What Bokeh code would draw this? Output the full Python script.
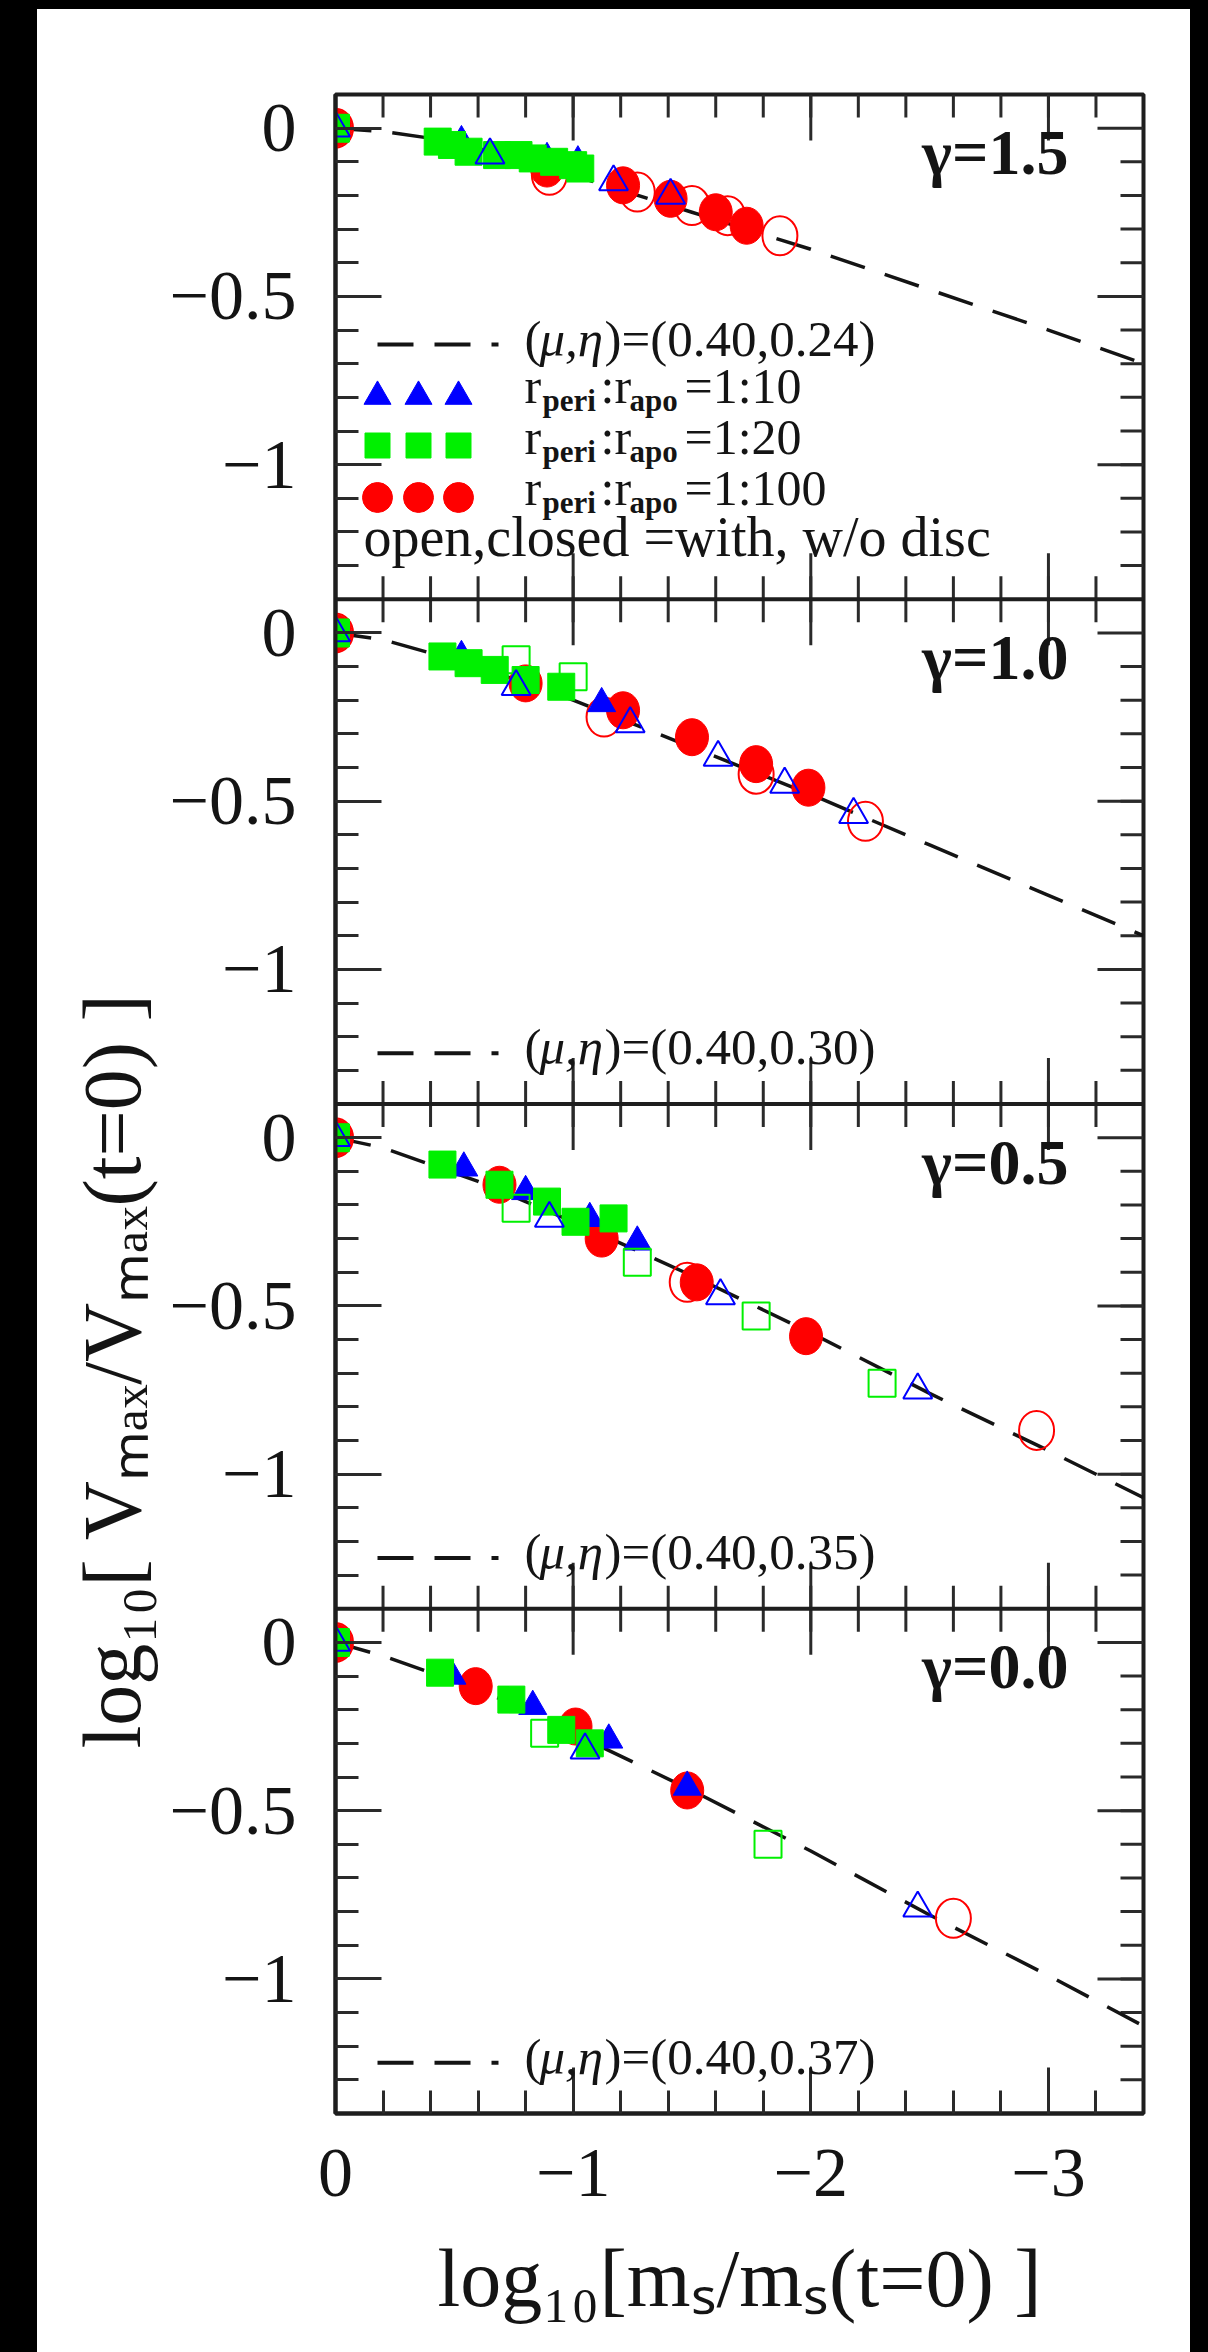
from bokeh.plotting import figure
from bokeh.models import Range1d, LinearAxis, FixedTicker, Label, Span, Title
from bokeh.embed import file_html
from bokeh.resources import INLINE

# ---------------------------------------------------------------- data
GAMMA_TEXT = ["γ=1.5", "γ=1.0", "γ=0.5", "γ=0.0"]
FIT_PARAMS = ["(0.40,0.24)", "(0.40,0.30)", "(0.40,0.35)", "(0.40,0.37)"]
ORBIT_RATIO = ["1:10", "1:20", "1:100"]
DISC_NOTE = "open,closed =with, w/o disc"
X_TITLE = "log₁₀[mₛ/mₛ(t=0) ]"
Y_TITLE = "log₁₀[ Vₘₐₓ/Vₘₐₓ(t=0) ]"

X_TICKS = [0, -1, -2, -3]
X_TICK_TEXT = ["0", "−1", "−2", "−3"]
Y_TICKS = [0.0, -0.5, -1.0]
Y_TICK_TEXT = ["0", "−0.5", "−1"]

# dashed tidal tracks
TRACK_X = [0, -0.2, -0.4, -0.6, -0.8, -1.0, -1.5, -2.0, -2.5, -3.0, -3.4]
TRACK_G15 = [0, -0.01, -0.03, -0.06, -0.10, -0.14, -0.25, -0.36, -0.48, -0.60, -0.70]
TRACK_G10 = [0, -0.02, -0.06, -0.10, -0.15, -0.20, -0.34, -0.48, -0.63, -0.78, -0.90]
TRACK_G05 = [0, -0.03, -0.08, -0.13, -0.19, -0.25, -0.41, -0.58, -0.76, -0.93, -1.07]
TRACK_G00 = [0, -0.04, -0.09, -0.14, -0.20, -0.27, -0.44, -0.62, -0.81, -0.99, -1.14]

# gamma = 1.5
G15_TRI_X = [0, -0.53, -0.89, -1.02]
G15_TRI_Y = [0, -0.04, -0.09, -0.10]
G15_TRI_OPEN_X = [0, -0.65, -1.17, -1.41]
G15_TRI_OPEN_Y = [0, -0.08, -0.16, -0.20]
G15_SQ_X = [0, -0.43, -0.49, -0.56, -0.68, -0.77, -0.83, -0.92, -1.00, -1.03]
G15_SQ_Y = [0, -0.04, -0.05, -0.07, -0.08, -0.08, -0.09, -0.10, -0.11, -0.12]
G15_SQ_OPEN_X = [0]
G15_SQ_OPEN_Y = [0]
G15_CIR_X = [0, -0.89, -1.21, -1.41, -1.60, -1.73]
G15_CIR_Y = [0, -0.12, -0.17, -0.21, -0.25, -0.29]
G15_CIR_OPEN_X = [0, -0.90, -1.27, -1.50, -1.65, -1.87]
G15_CIR_OPEN_Y = [0, -0.14, -0.19, -0.23, -0.26, -0.32]

# gamma = 1.0
G10_TRI_X = [0, -0.53, -1.12]
G10_TRI_Y = [0, -0.07, -0.21]
G10_TRI_OPEN_X = [0, -0.76, -1.24, -1.61, -1.89, -2.18]
G10_TRI_OPEN_Y = [0, -0.16, -0.27, -0.37, -0.45, -0.54]
G10_SQ_X = [0, -0.45, -0.56, -0.67, -0.80, -0.95]
G10_SQ_Y = [0, -0.07, -0.09, -0.11, -0.14, -0.16]
G10_SQ_OPEN_X = [0, -0.76, -1.00]
G10_SQ_OPEN_Y = [0, -0.08, -0.13]
G10_CIR_X = [0, -0.80, -1.21, -1.50, -1.77, -1.99]
G10_CIR_Y = [0, -0.15, -0.23, -0.31, -0.39, -0.46]
G10_CIR_OPEN_X = [0, -1.13, -1.77, -2.23]
G10_CIR_OPEN_Y = [0, -0.25, -0.42, -0.56]

# gamma = 0.5
G05_TRI_X = [0, -0.54, -0.80, -1.07, -1.27]
G05_TRI_Y = [0, -0.09, -0.16, -0.24, -0.31]
G05_TRI_OPEN_X = [0, -0.90, -1.62, -2.45]
G05_TRI_OPEN_Y = [0, -0.24, -0.47, -0.75]
G05_SQ_X = [0, -0.45, -0.69, -0.89, -1.01, -1.17]
G05_SQ_Y = [0, -0.08, -0.14, -0.19, -0.25, -0.24]
G05_SQ_OPEN_X = [0, -0.76, -1.27, -1.77, -2.30]
G05_SQ_OPEN_Y = [0, -0.21, -0.37, -0.53, -0.73]
G05_CIR_X = [0, -0.69, -1.12, -1.52, -1.98]
G05_CIR_Y = [0, -0.14, -0.30, -0.43, -0.59]
G05_CIR_OPEN_X = [0, -1.48, -2.95]
G05_CIR_OPEN_Y = [0, -0.43, -0.87]

# gamma = 0.0
G00_TRI_X = [0, -0.49, -0.83, -1.15, -1.48]
G00_TRI_Y = [0, -0.10, -0.19, -0.29, -0.43]
G00_TRI_OPEN_X = [0, -1.05, -2.45]
G00_TRI_OPEN_Y = [0, -0.32, -0.79]
G00_SQ_X = [0, -0.44, -0.74, -0.95, -1.07]
G00_SQ_Y = [0, -0.09, -0.17, -0.26, -0.30]
G00_SQ_OPEN_X = [0, -0.88, -1.82]
G00_SQ_OPEN_Y = [0, -0.27, -0.60]
G00_CIR_X = [0, -0.59, -1.01, -1.48]
G00_CIR_Y = [0, -0.13, -0.25, -0.44]
G00_CIR_OPEN_X = [0, -2.60]
G00_CIR_OPEN_Y = [0, -0.82]

PANELS = [
    dict(track=TRACK_G15, tri=(G15_TRI_X, G15_TRI_Y), tri_o=(G15_TRI_OPEN_X, G15_TRI_OPEN_Y),
         sq=(G15_SQ_X, G15_SQ_Y), sq_o=(G15_SQ_OPEN_X, G15_SQ_OPEN_Y),
         cir=(G15_CIR_X, G15_CIR_Y), cir_o=(G15_CIR_OPEN_X, G15_CIR_OPEN_Y)),
    dict(track=TRACK_G10, tri=(G10_TRI_X, G10_TRI_Y), tri_o=(G10_TRI_OPEN_X, G10_TRI_OPEN_Y),
         sq=(G10_SQ_X, G10_SQ_Y), sq_o=(G10_SQ_OPEN_X, G10_SQ_OPEN_Y),
         cir=(G10_CIR_X, G10_CIR_Y), cir_o=(G10_CIR_OPEN_X, G10_CIR_OPEN_Y)),
    dict(track=TRACK_G05, tri=(G05_TRI_X, G05_TRI_Y), tri_o=(G05_TRI_OPEN_X, G05_TRI_OPEN_Y),
         sq=(G05_SQ_X, G05_SQ_Y), sq_o=(G05_SQ_OPEN_X, G05_SQ_OPEN_Y),
         cir=(G05_CIR_X, G05_CIR_Y), cir_o=(G05_CIR_OPEN_X, G05_CIR_OPEN_Y)),
    dict(track=TRACK_G00, tri=(G00_TRI_X, G00_TRI_Y), tri_o=(G00_TRI_OPEN_X, G00_TRI_OPEN_Y),
         sq=(G00_SQ_X, G00_SQ_Y), sq_o=(G00_SQ_OPEN_X, G00_SQ_OPEN_Y),
         cir=(G00_CIR_X, G00_CIR_Y), cir_o=(G00_CIR_OPEN_X, G00_CIR_OPEN_Y)),
]

# ---------------------------------------------------------------- style / layout
FONT = "Liberation Serif"
TEXT = "#141414"
FRAME = "#1e1e1e"
TICK = "#2a2a2a"
BLUE, GREEN, RED = "#0000ff", "#00f000", "#ff0000"

PAGE_W, PAGE_H = 1208, 2352
BLACK_L, BLACK_T, BLACK_R = 37, 9, 18            # black page edges
FIG_W, FIG_H = PAGE_W - BLACK_R, PAGE_H
FL, FR, FT, FB = 335, 1143, 94, 2113            # frame edges in page pixels
X_START, X_END = 0.0, -3.4
Y_LO, Y_HI = -1.4, 0.1                            # one panel
NP = 4
SPAN = Y_HI - Y_LO
DEF_LO, DEF_HI = Y_LO, Y_LO + NP * SPAN          # default range = bottom panel
PANEL_H = (FB - FT) / NP
YU = (DEF_HI - DEF_LO) / (FB - FT)               # y data units per pixel
XU = (X_END - X_START) / (FR - FL)               # x data units per pixel


def X(px):
    return X_START + (px - FL) * XU


def Y(py):
    return DEF_HI - (py - FT) * YU


def ptop(k):
    return FT + k * PANEL_H


p = figure(width=FIG_W, height=FIG_H,
           x_range=Range1d(X_START, X_END), y_range=Range1d(DEF_LO, DEF_HI),
           x_axis_type=None, y_axis_type=None,
           min_border_left=FL, min_border_right=FIG_W - FR,
           min_border_top=FT, min_border_bottom=FIG_H - FB,
           output_backend="svg", toolbar_location=None)
p.background_fill_color = "white"
p.border_fill_color = "white"
p.outline_line_color = FRAME
p.outline_line_width = 4

for k in range(NP):
    off = (NP - 1 - k) * SPAN
    p.extra_y_ranges[f"p{k}"] = Range1d(DEF_LO - off, DEF_HI - off)

# ---- ticks
y_major, y_minor, y_over = [], [], {}
for k in range(NP):
    off = (NP - 1 - k) * SPAN
    for v, t in zip(Y_TICKS, Y_TICK_TEXT):
        y_major.append(round(v + off, 6))
        y_over[round(v + off, 6)] = t
    for i in range(1, 14):
        y_minor.append(round(-0.1 * i + off, 6))

x_major = [float(v) for v in X_TICKS]
x_minor = [round(-0.2 * i, 6) for i in range(1, 17)]
x_over = {float(v): t for v, t in zip(X_TICKS, X_TICK_TEXT)}


def style_axis(ax, size="70px", standoff=39):
    ax.major_tick_in = 46
    ax.major_tick_out = 0
    ax.minor_tick_in = 23
    ax.minor_tick_out = 0
    ax.major_tick_line_width = 3
    ax.minor_tick_line_width = 3
    ax.major_tick_line_color = TICK
    ax.minor_tick_line_color = TICK
    ax.axis_line_width = 4
    ax.axis_line_color = FRAME
    ax.major_label_text_font = FONT
    ax.major_label_text_font_size = size
    ax.major_label_text_color = TEXT
    ax.major_label_standoff = standoff


yl = LinearAxis(ticker=FixedTicker(ticks=y_major, minor_ticks=y_minor),
                major_label_overrides=y_over)
style_axis(yl, standoff=39)
p.add_layout(yl, "left")

# y title, started where the reference starts it
p.add_layout(Title(text=Y_TITLE, align="left", offset=FB - 1748, vertical_align="bottom",
                   standoff=18, text_font=FONT, text_font_size="82px",
                   text_font_style="normal", text_color=TEXT), "left")

xb = LinearAxis(ticker=FixedTicker(ticks=x_major, minor_ticks=x_minor),
                major_label_overrides=x_over,
                axis_label=X_TITLE, axis_label_text_font=FONT,
                axis_label_text_font_size="82px", axis_label_text_font_style="normal",
                axis_label_text_color=TEXT, axis_label_standoff=34)
style_axis(xb, standoff=36)
p.add_layout(xb, "below")

# ---- ticks on the top and right edges and on the inner panel boundaries
maj_y = 46 * YU
min_y = 23 * YU
maj_x = 46 * XU
min_x = 23 * XU
sx0, sy0, sx1, sy1 = [], [], [], []
for xv in x_major:
    sx0.append(xv); sx1.append(xv); sy0.append(DEF_HI); sy1.append(DEF_HI - maj_y)
for xv in x_minor:
    sx0.append(xv); sx1.append(xv); sy0.append(DEF_HI); sy1.append(DEF_HI - min_y)
for yv in y_major:
    sx0.append(X_END); sx1.append(X_END - maj_x); sy0.append(yv); sy1.append(yv)
for yv in y_minor:
    sx0.append(X_END); sx1.append(X_END - min_x); sy0.append(yv); sy1.append(yv)
for k in range(1, NP):
    b = Y(ptop(k))
    p.add_layout(Span(location=b, dimension="width", line_color=FRAME, line_width=4))
    for xv in x_major:
        sx0.append(xv); sx1.append(xv); sy0.append(b - maj_y); sy1.append(b + maj_y)
    for xv in x_minor:
        sx0.append(xv); sx1.append(xv); sy0.append(b - min_y); sy1.append(b + min_y)
p.segment(x0=sx0, y0=sy0, x1=sx1, y1=sy1, line_color=TICK, line_width=3)

# ---- data
for k, pd in enumerate(PANELS):
    rn = f"p{k}"
    p.line(TRACK_X, pd["track"], y_range_name=rn, line_color=TEXT, line_width=3.5,
           line_dash="36 21")
    p.ellipse(x=pd["cir"][0], y=pd["cir"][1], width=33, height=37, width_units="screen",
              height_units="screen", fill_color=RED, line_color=RED, y_range_name=rn)
    p.ellipse(x=pd["cir_o"][0], y=pd["cir_o"][1], width=35, height=39, width_units="screen",
              height_units="screen", fill_color=None, line_color=RED, line_width=2,
              y_range_name=rn)
    p.scatter(pd["tri"][0], pd["tri"][1], marker="triangle", size=28, fill_color=BLUE,
              line_color=BLUE, y_range_name=rn)
    p.scatter(pd["sq"][0], pd["sq"][1], marker="square", size=27, fill_color=GREEN,
              line_color=GREEN, y_range_name=rn)
    p.scatter(pd["sq_o"][0], pd["sq_o"][1], marker="square", size=27, fill_color=None,
              line_color=GREEN, line_width=2, y_range_name=rn)
    p.scatter(pd["tri_o"][0], pd["tri_o"][1], marker="triangle", size=29, fill_color=None,
              line_color=BLUE, line_width=2, y_range_name=rn)


# ---- text helper (y = visual centre of the text line)
def lab(text, px, py, size, style="normal", align="left"):
    p.add_layout(Label(x=X(px), y=Y(py), text=text, text_font=FONT,
                       text_font_size=f"{size}px", text_font_style=style,
                       text_color=TEXT, text_align=align, text_baseline="middle"))


for k in range(NP):
    top = ptop(k)
    lab(GAMMA_TEXT[k], 1068, top + 58, 64, style="bold", align="right")
    dash_y = top + (250 if k == 0 else 454)
    p.line([X(377), X(498)], [Y(dash_y), Y(dash_y)], line_color=TEXT, line_width=4,
           line_dash="36 21")
    lab("(", 524, dash_y - 6, 51)
    lab("μ,η", 539, dash_y - 6, 51, style="italic")
    lab(")=" + FIT_PARAMS[k], 604, dash_y - 6, 51)

# legend of panel 1
row_mid = [385, 436, 487]
row_mark = [396, 445, 497]
leg_x = [377, 418, 458]
p.scatter([X(v) for v in leg_x], [Y(row_mark[0])] * 3, marker="triangle", size=27,
          fill_color=BLUE, line_color=BLUE)
p.scatter([X(v) for v in leg_x], [Y(row_mark[1])] * 3, marker="square", size=25,
          fill_color=GREEN, line_color=GREEN)
p.scatter([X(v) for v in leg_x], [Y(row_mark[2])] * 3, marker="circle", size=30,
          fill_color=RED, line_color=RED)
for ratio, ym in zip(ORBIT_RATIO, row_mid):
    lab("r", 524, ym, 50)
    lab("peri", 542, ym + 15, 31, style="bold")
    lab(":r", 600, ym, 50)
    lab("apo", 629, ym + 15, 31, style="bold")
    lab("=" + ratio, 684, ym, 50)
lab(DISC_NOTE, 363, 536, 56)

html = file_html(p, INLINE, title="tidal tracks")
html = html.replace(
    "<head>",
    "<head><style>html,body{margin:0;padding:0;background:#000;overflow:hidden;}</style>", 1)
edges = ('<div style="position:fixed;left:0;top:0;width:%dpx;height:%dpx;background:#000;'
         'z-index:1000"></div>'
         '<div style="position:fixed;left:0;top:0;width:%dpx;height:%dpx;background:#000;'
         'z-index:1000"></div>' % (BLACK_L, PAGE_H, PAGE_W, BLACK_T))
cut = html.rfind("</body>")
html = html[:cut] + edges + html[cut:]
open("out.html", "w").write(html)
